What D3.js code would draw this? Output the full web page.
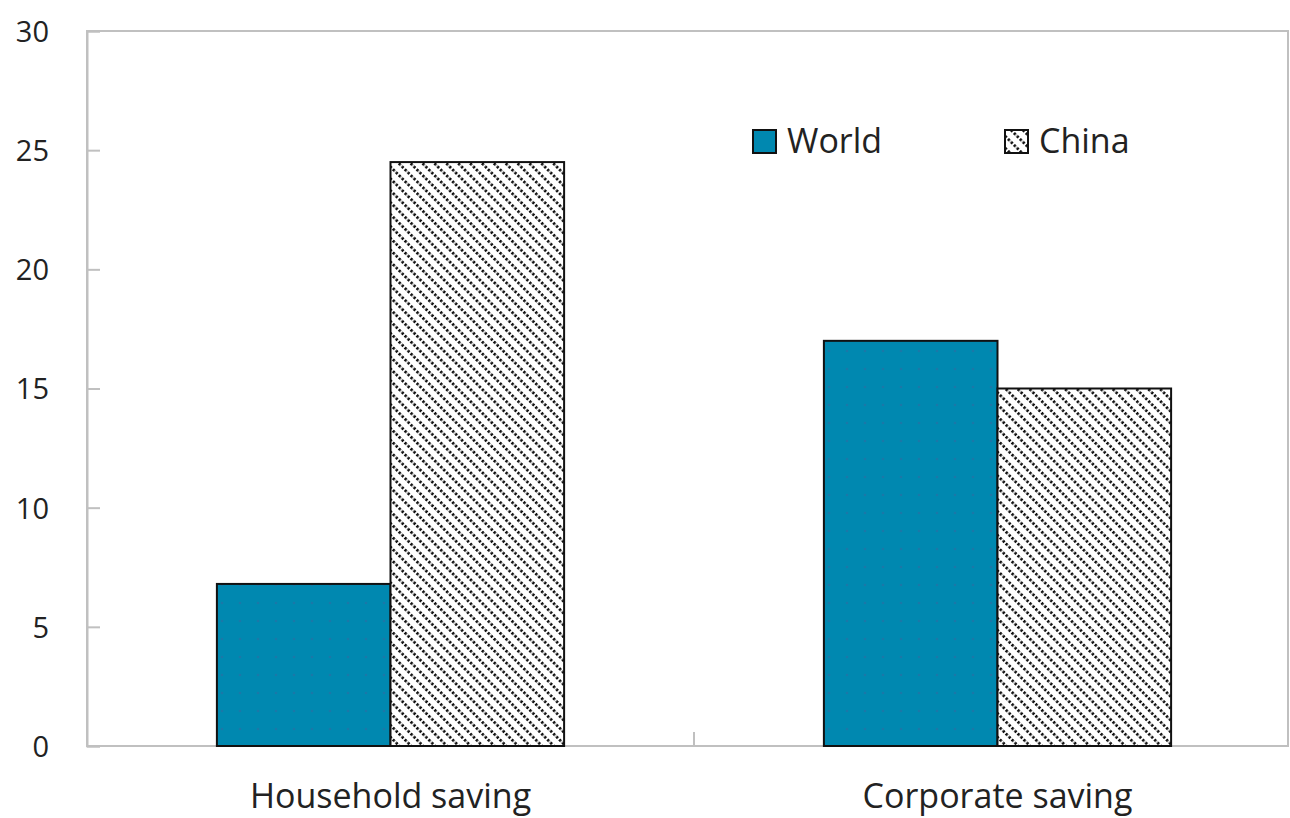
<!DOCTYPE html>
<html>
<head>
<meta charset="utf-8">
<script src="https://cdn.jsdelivr.net/npm/d3@7"></script>
<style>
  body { margin: 0; background: #fff; }
  text { font-family: "Open Sans", "Noto Sans", sans-serif; fill: #222; }
</style>
</head>
<body>
<svg id="chart" width="1290" height="818"></svg>
<script>
const categories = ['Household saving', 'Corporate saving']
const seriesNames = ['World', 'China']
const worldValues = [6.8, 17.0]
const chinaValues = [24.5, 15.0]
const yTicks = [0, 5, 10, 15, 20, 25, 30]

const width = 1290
const height = 818
const margin = { top: 31, right: 2, bottom: 72, left: 87 }
const frameRight = width - margin.right

const svg = d3.select('#chart')

// patterns
const defs = svg.append('defs')
const hatch = defs
  .append('pattern')
  .attr('id', 'hatch')
  .attr('patternUnits', 'userSpaceOnUse')
  .attr('width', 8.4)
  .attr('height', 8.4)
  .attr('patternTransform', 'rotate(45)')
hatch.append('rect').attr('width', 8.4).attr('height', 8.4).attr('fill', '#fff')
hatch
  .append('line')
  .attr('x1', 0)
  .attr('y1', 4.2)
  .attr('x2', 8.4)
  .attr('y2', 4.2)
  .attr('stroke', '#111')
  .attr('stroke-width', 3)
  .attr('stroke-dasharray', '2.4,1.8')

const dots = defs
  .append('pattern')
  .attr('id', 'dots')
  .attr('patternUnits', 'userSpaceOnUse')
  .attr('width', 18)
  .attr('height', 18)
dots.append('rect').attr('width', 18).attr('height', 18).attr('fill', '#0088b0')
dots.append('circle').attr('cx', 9).attr('cy', 9).attr('r', 1.3).attr('fill', '#1a78a8')

// category bands run a little past the frame, as in the original
const x0 = d3
  .scaleBand()
  .domain(categories)
  .range([margin.left, 1301])

const x1 = d3
  .scaleBand()
  .domain(seriesNames)
  .range([x0.bandwidth() * 0.214, x0.bandwidth() * 0.786])

const y = d3
  .scaleLinear()
  .domain([0, 30])
  .range([height - margin.bottom, margin.top])

const fills = { World: 'url(#dots)', China: 'url(#hatch)' }

// frame
svg
  .append('rect')
  .attr('x', margin.left)
  .attr('y', margin.top)
  .attr('width', frameRight - margin.left)
  .attr('height', y(0) - margin.top)
  .attr('fill', 'none')
  .attr('stroke', '#c0c0c0')
  .attr('stroke-width', 2)

const rows = categories.map(function(c, i) {
  return { category: c, World: worldValues[i], China: chinaValues[i] }
})

svg
  .append('g')
  .selectAll('g')
  .data(rows)
  .enter()
  .append('g')
  .attr('transform', function(d) {
    return 'translate(' + x0(d.category) + ',0)'
  })
  .selectAll('rect')
  .data(function(d) {
    return seriesNames.map(function(k) {
      return { key: k, value: d[k] }
    })
  })
  .enter()
  .append('rect')
  .attr('x', function(d) {
    return x1(d.key)
  })
  .attr('y', function(d) {
    return y(d.value)
  })
  .attr('width', x1.bandwidth())
  .attr('height', function(d) {
    return y(0) - y(d.value)
  })
  .attr('fill', function(d) {
    return fills[d.key]
  })
  .attr('stroke', '#111')
  .attr('stroke-width', 2)

// y axis
const yAxis = svg
  .append('g')
  .attr('transform', 'translate(' + margin.left + ',0)')
  .call(
    d3
      .axisLeft(y)
      .tickValues(yTicks)
      .tickSize(-13)
      .tickPadding(38)
  )
yAxis.select('.domain').attr('stroke', '#c0c0c0').attr('stroke-width', 2)
yAxis.selectAll('.tick line').attr('stroke', '#c0c0c0').attr('stroke-width', 2)
yAxis
  .selectAll('.tick text')
  .attr('font-size', 29)
  .attr('fill', '#222')
  .attr('dy', '0.36em')

// x axis
const xAxis = svg
  .append('g')
  .attr('transform', 'translate(0,' + y(0) + ')')
  .call(
    d3
      .axisBottom(x0)
      .tickSize(0)
      .tickPadding(62)
  )
xAxis.select('.domain').remove()
xAxis
  .selectAll('.tick text')
  .attr('font-size', 34)
  .attr('fill', '#222')
  .attr('dy', '0')

// category separator ticks
svg
  .append('g')
  .selectAll('line')
  .data(categories.slice(1))
  .enter()
  .append('line')
  .attr('x1', function(d) {
    return x0(d)
  })
  .attr('x2', function(d) {
    return x0(d)
  })
  .attr('y1', y(0))
  .attr('y2', y(0) - 14)
  .attr('stroke', '#c0c0c0')
  .attr('stroke-width', 2)

// legend
const legendX = [753, 1005]
const legend = svg
  .append('g')
  .selectAll('g')
  .data(seriesNames)
  .enter()
  .append('g')
  .attr('transform', function(d, i) {
    return 'translate(' + legendX[i] + ',130)'
  })
legend
  .append('rect')
  .attr('width', 23)
  .attr('height', 23)
  .attr('fill', function(d) {
    return d === 'World' ? '#0088b0' : 'url(#hatch)'
  })
  .attr('stroke', '#111')
  .attr('stroke-width', 2)
legend
  .append('text')
  .attr('x', 34)
  .attr('y', 23)
  .attr('font-size', 34)
  .text(function(d) {
    return d
  })
</script>
</body>
</html>
